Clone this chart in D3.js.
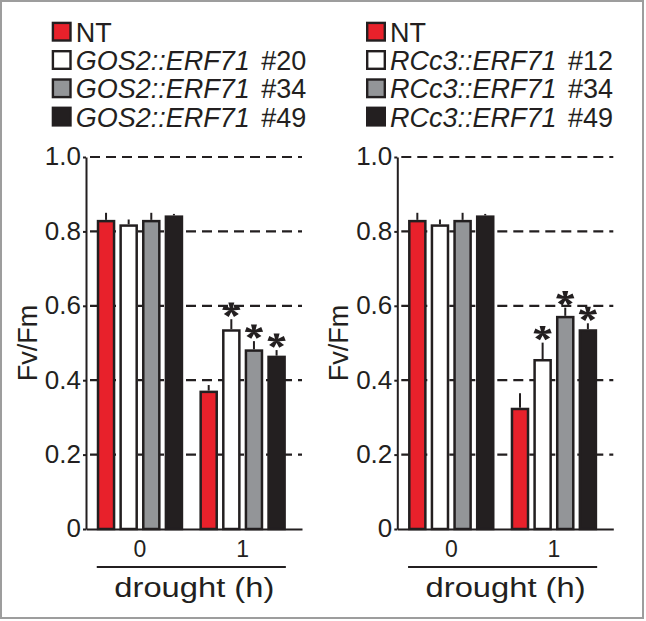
<!DOCTYPE html>
<html>
<head>
<meta charset="utf-8">
<script src="https://cdn.jsdelivr.net/npm/d3@7"></script>
<style>
  body { margin: 0; background: #fff; }
  text { font-family: "Liberation Sans", Arial, Helvetica, sans-serif; fill: #231f20; }
</style>
</head>
<body>
<div id="chart"></div>
<script>
// drought timepoints and genotypes
var timepoints = ["0", "1"];
var seriesKeys = ["NT", "L1", "L2", "L3"];
var yTicks = [0, 0.2, 0.4, 0.6, 0.8, 1.0];
var yTickLabels = ["0", "0.2", "0.4", "0.6", "0.8", "1.0"];

var gosLabels = [["NT", ""], ["GOS2::ERF71", "#20"], ["GOS2::ERF71", "#34"], ["GOS2::ERF71", "#49"]];
var gosMeans = [[0.831, 0.372], [0.819, 0.537], [0.831, 0.483], [0.843, 0.466]];
var gosErrs  = [[0.019, 0.015], [0.013, 0.027], [0.019, 0.022], [0.004, 0.015]];
var gosSig   = [[false, false], [false, true], [false, true], [false, true]];

var rcLabels = [["NT", ""], ["RCc3::ERF71", "#12"], ["RCc3::ERF71", "#34"], ["RCc3::ERF71", "#49"]];
var rcMeans = [[0.831, 0.326], [0.819, 0.457], [0.831, 0.573], [0.843, 0.537]];
var rcErrs  = [[0.019, 0.039], [0.013, 0.044], [0.019, 0.022], [0.004, 0.016]];
var rcSig   = [[false, false], [false, true], [false, true], [false, true]];

var colors = ["#e8212b", "#ffffff", "#939598", "#231f20"];
var ink = "#231f20";

var width = 646, height = 621;
var svg = d3.select("#chart").append("svg")
    .attr("width", width)
    .attr("height", height);

// outer frame
svg.append("rect")
    .attr("x", 1).attr("y", 1)
    .attr("width", 642).attr("height", 617)
    .attr("fill", "none")
    .attr("stroke", "#9d9d9d")
    .attr("stroke-width", 2);

var y = d3.scaleLinear().domain([0, 1]).range([529, 157]);

var x0 = d3.scaleBand()
    .domain(timepoints)
    .range([0, 216])
    .paddingInner(0.158)
    .paddingOuter(0.131)
    .align(0.4);

var x1 = d3.scaleBand()
    .domain(seriesKeys)
    .range([0, x0.bandwidth()])
    .paddingInner(0.18);

// helvetica-like asterisk: 5 wedge arms, filled
function asterisk(r) {
    var p = d3.path();
    for (var i = 0; i < 5; i++) {
        var a = -Math.PI / 2 + i * 2 * Math.PI / 5;
        var c = Math.cos(a), s = Math.sin(a);
        var nx = -s, ny = c;
        p.moveTo(nx * 1, ny * 1);
        p.lineTo(r * c + nx * 2.6, r * s + ny * 2.6);
        p.lineTo(r * c - nx * 2.6, r * s - ny * 2.6);
        p.lineTo(-nx * 1, -ny * 1);
        p.closePath();
    }
    return p.toString();
}

function panel(axisX, legendX, labels, means, errs, sig) {

    // legend
    var leg = svg.append("g").attr("transform", "translate(" + legendX + ",0)");
    labels.forEach(function (l, i) {
        var top = 21.7 + i * 28.3;
        leg.append("rect")
            .attr("x", 1.2).attr("y", top + 1.2)
            .attr("width", 17.6).attr("height", 17.6)
            .attr("fill", colors[i])
            .attr("stroke", ink)
            .attr("stroke-width", 2.4);
        var t = leg.append("text")
            .attr("x", 24)
            .attr("y", top + 20)
            .style("font-size", "27px");
        if (l[1] == "") {
            t.text(l[0]);
        } else {
            t.append("tspan").style("font-style", "italic").text(l[0]);
            t.append("tspan").attr("dx", 4).text(" " + l[1]);
        }
    });

    var g = svg.append("g").attr("transform", "translate(" + axisX + ",0)");

    // dashed grid
    g.selectAll(".grid")
        .data(yTicks.slice(1))
        .enter()
        .append("line")
        .attr("x1", 4).attr("x2", 216)
        .attr("y1", function (d) { return y(d); })
        .attr("y2", function (d) { return y(d); })
        .attr("stroke", ink)
        .attr("stroke-width", 2.2)
        .attr("stroke-dasharray", "10,6");

    // bars
    var rows = [];
    seriesKeys.forEach(function (s, i) {
        timepoints.forEach(function (t, j) {
            rows.push({ s: s, i: i, t: t, v: means[i][j], e: errs[i][j], sig: sig[i][j] });
        });
    });

    g.selectAll(".err")
        .data(rows)
        .enter()
        .append("line")
        .attr("x1", function (d) { return x0(d.t) + x1(d.s) + x1.bandwidth() / 2; })
        .attr("x2", function (d) { return x0(d.t) + x1(d.s) + x1.bandwidth() / 2; })
        .attr("y1", function (d) { return y(d.v); })
        .attr("y2", function (d) { return y(d.v + d.e); })
        .attr("stroke", ink)
        .attr("stroke-width", 2);

    var sw = 2.5;
    g.selectAll(".bar")
        .data(rows)
        .enter()
        .append("rect")
        .attr("x", function (d) { return x0(d.t) + x1(d.s) + sw / 2; })
        .attr("width", x1.bandwidth() - sw)
        .attr("y", function (d) { return y(d.v) + sw / 2; })
        .attr("height", function (d) { return y(0) - y(d.v) - sw / 2; })
        .attr("fill", function (d) { return colors[d.i]; })
        .attr("stroke", ink)
        .attr("stroke-width", sw);

    g.selectAll(".star")
        .data(rows.filter(function (d) { return d.sig; }))
        .enter()
        .append("path")
        .attr("transform", function (d) {
            return "translate(" + (x0(d.t) + x1(d.s) + x1.bandwidth() / 2) + "," + (y(d.v + d.e) - 9.5) + ") scale(1.15,0.95)";
        })
        .attr("d", asterisk(7.5))
        .attr("fill", ink);

    // y axis
    var yAxis = g.append("g")
        .call(d3.axisLeft(y)
            .tickValues(yTicks)
            .tickFormat(function (d, i) { return yTickLabels[i]; })
            .tickSizeInner(3)
            .tickSizeOuter(0)
            .tickPadding(2));
    yAxis.attr("font-size", null).attr("font-family", null);
    yAxis.select(".domain").attr("stroke", ink).attr("stroke-width", 2);
    yAxis.selectAll(".tick line").attr("stroke", ink).attr("stroke-width", 2);
    yAxis.selectAll(".tick text")
        .attr("dy", "0.3em")
        .style("font-size", "26px")
        .attr("fill", ink);

    // x axis
    var xAxis = g.append("g")
        .attr("transform", "translate(0," + y(0) + ")")
        .call(d3.axisBottom(x0).tickSize(0).tickPadding(12));
    xAxis.attr("font-size", null).attr("font-family", null);
    xAxis.select(".domain").attr("stroke", ink).attr("stroke-width", 2);
    xAxis.selectAll(".tick text")
        .style("font-size", "23px")
        .attr("fill", ink);

    var u0 = x0(timepoints[0]) + x1(seriesKeys[0]);
    var u1 = x0(timepoints[1]) + x1(seriesKeys[3]) + x1.bandwidth();
    g.append("line")
        .attr("x1", u0).attr("x2", u1)
        .attr("y1", 567).attr("y2", 567)
        .attr("stroke", ink)
        .attr("stroke-width", 2);

    g.append("text")
        .attr("x", (u0 + u1) / 2 + 3)
        .attr("y", 596.5)
        .attr("text-anchor", "middle")
        .attr("textLength", 160)
        .attr("lengthAdjust", "spacingAndGlyphs")
        .style("font-size", "27px")
        .text("drought (h)");

    g.append("text")
        .attr("transform", "translate(-49.5," + (y(0.5)) + ") rotate(-90)")
        .attr("text-anchor", "middle")
        .style("font-size", "27px")
        .text("Fv/Fm");
}

panel(86, 51.7, gosLabels, gosMeans, gosErrs, gosSig);
panel(397.3, 366, rcLabels, rcMeans, rcErrs, rcSig);
</script>
</body>
</html>
